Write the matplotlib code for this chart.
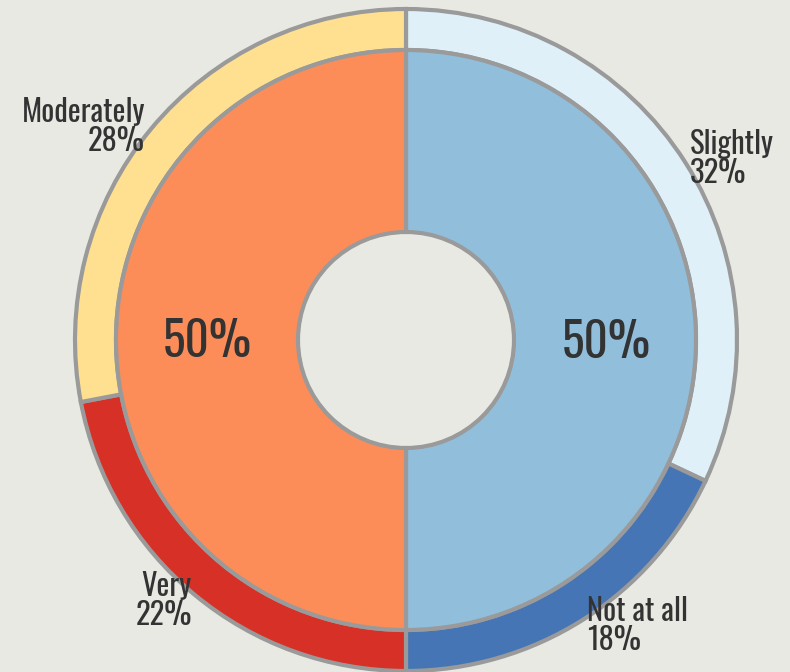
import matplotlib
matplotlib.use("Agg")
import matplotlib.pyplot as plt

# outer ring: intensity
outer_labels = ["Slightly", "Not at all", "Very", "Moderately"]
outer_values = [32, 18, 22, 28]
outer_colors = ["#dff0f8", "#4575b4", "#d73027", "#fee090"]

# inner ring
inner_values = [50, 50]
inner_colors = ["#91bfdb", "#fc8d59"]

bg = "#e9e9e4"
edge = "#9a9a9a"
txt = "#333333"
fam = ["Oswald", "DejaVu Sans"]

W, H = 790, 672
cx, cy, R = 406, 340, 331

def px(x, y):
    return (x - cx) / R, (cy - y) / R

fig = plt.figure(figsize=(W / 100, H / 100), dpi=100, facecolor=bg)
ax = fig.add_axes([0, 0, 1, 1])
ax.set_facecolor(bg)

ax.pie(outer_values, colors=outer_colors, radius=1.0, startangle=90,
       counterclock=False,
       wedgeprops=dict(width=(331 - 290) / R, edgecolor=edge, linewidth=3))
ax.pie(inner_values, colors=inner_colors, radius=290 / R, startangle=90,
       counterclock=False,
       wedgeprops=dict(width=(290 - 108) / R, edgecolor=edge, linewidth=3))

ax.set_xlim(-cx / R, (W - cx) / R)
ax.set_ylim(-(H - cy) / R, cy / R)
ax.set_aspect("auto")
ax.axis("off")

lab_pos = {
    "Slightly": ((690, 159), "left"),
    "Not at all": ((587, 626), "left"),
    "Very": ((192, 601), "right"),
    "Moderately": ((145, 127), "right"),
}
for name, val in zip(outer_labels, outer_values):
    (x, y), ha = lab_pos[name]
    ax.text(*px(x, y), f"{name}\n{val}%", ha=ha, va="center",
            multialignment=ha, fontsize=22, color=txt, family=fam,
            linespacing=0.95)

ax.text(*px(606, 343), f"{inner_values[0]}%", ha="center", va="center",
        fontsize=34, color=txt, family=fam)
ax.text(*px(207, 342), f"{inner_values[1]}%", ha="center", va="center",
        fontsize=34, color=txt, family=fam)

fig.savefig("out.png", dpi=100, facecolor=bg)
